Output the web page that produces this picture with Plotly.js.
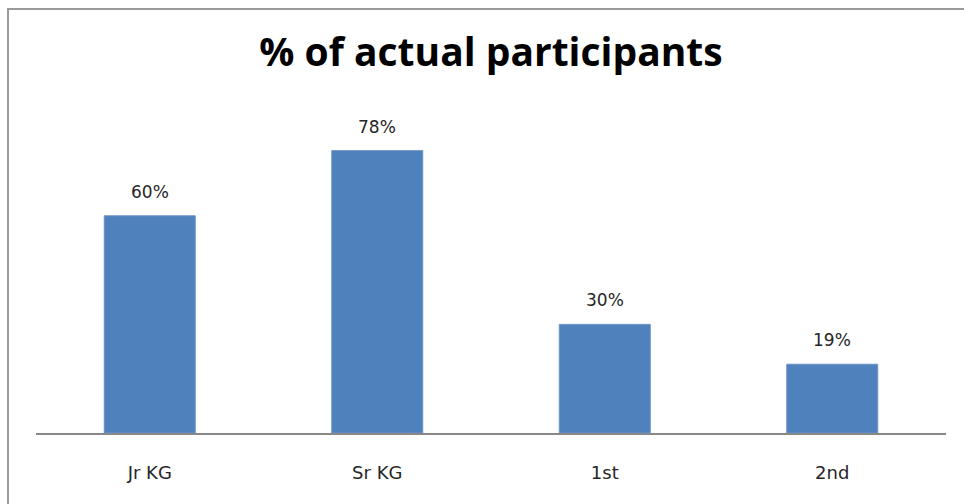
<!DOCTYPE html>
<html>
<head>
<meta charset="utf-8">
<script src="https://cdn.plot.ly/plotly-3.0.1.min.js"></script>
<style>html,body{margin:0;padding:0;background:#fff;}#chart{width:964px;height:504px;}</style>
</head>
<body>
<div id="chart"></div>
<script>
const categories = ["Jr KG", "Sr KG", "1st", "2nd"];
const values = [60, 78, 30, 19];
const labels = ["60%", "78%", "30%", "19%"];

const L = 36, R = 18, T = 71, B = 71;
const plotH = 504 - T - B;
const plotW = 964 - L - R;

const trace = {
  type: "bar",
  x: categories,
  y: values,
  marker: {color: "#4F81BD", line: {color: "#6C93C6", width: 1}},
  hoverinfo: "none"
};

const annotations = categories.map((c, i) => ({
  x: c, y: values[i], xref: "x", yref: "y",
  text: labels[i], showarrow: false,
  yanchor: "bottom", yshift: 12,
  font: {family: "DejaVu Sans", size: 17, color: "#262626"}
}));

const layout = {
  width: 964, height: 504,
  margin: {l: L, r: R, t: T, b: B, pad: 0},
  paper_bgcolor: "#fff", plot_bgcolor: "#fff",
  showlegend: false,
  bargap: 0.6,
  title: {
    text: "<b>% of actual participants</b>",
    font: {family: "Open Sans", size: 39, color: "#000"},
    x: 0.5, xref: "paper", xanchor: "center",
    y: 1 - 52/504, yref: "container", yanchor: "middle"
  },
  xaxis: {
    showgrid: false, zeroline: false,
    showline: true, linecolor: "#888888", linewidth: 2,
    ticks: "", ticklabelstandoff: 22,
    tickfont: {family: "DejaVu Sans", size: 18, color: "#262626"},
    fixedrange: true
  },
  yaxis: {
    range: [0, 100], visible: false, showgrid: false, zeroline: false, fixedrange: true
  },
  annotations: annotations,
  shapes: [{
    type: "rect", xref: "paper", yref: "paper",
    x0: (8 - L) / plotW, x1: 1.2,
    y0: -0.5, y1: (504 - B - 9) / plotH,
    line: {color: "#9a9a9a", width: 2}, fillcolor: "rgba(0,0,0,0)"
  }]
};

Plotly.newPlot("chart", [trace], layout, {displayModeBar: false, staticPlot: true});
</script>
</body>
</html>
